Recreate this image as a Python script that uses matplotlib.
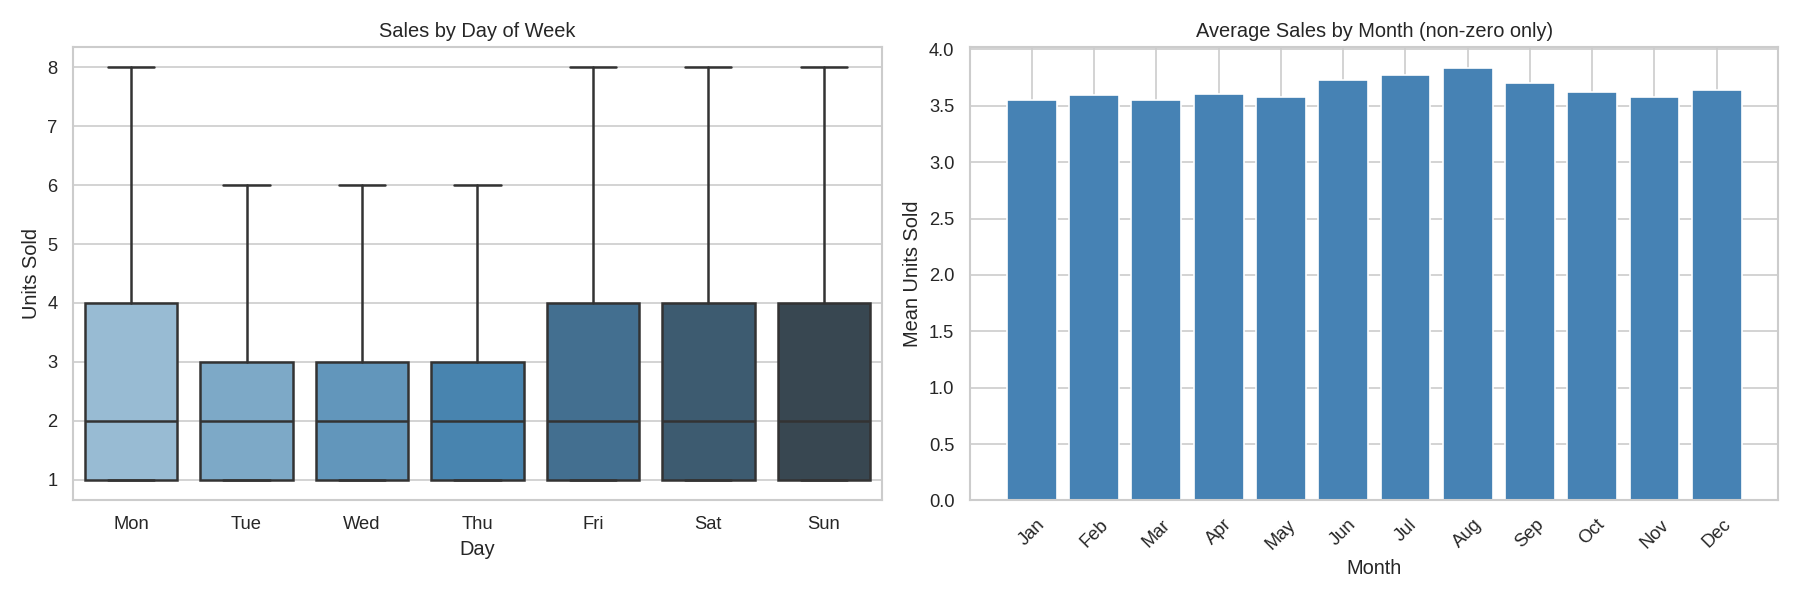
import numpy as np
import matplotlib
matplotlib.use("Agg")
import matplotlib.pyplot as plt
import seaborn as sns

# Box stats per weekday
days = ["Mon", "Tue", "Wed", "Thu", "Fri", "Sat", "Sun"]
q1 = [1, 1, 1, 1, 1, 1, 1]
med = [2, 2, 2, 2, 2, 2, 2]
q3 = [4, 3, 3, 3, 4, 4, 4]
whislo = [1, 1, 1, 1, 1, 1, 1]
whishi = [8, 6, 6, 6, 8, 8, 8]

# Mean units sold per month (non-zero only)
months = ["Jan", "Feb", "Mar", "Apr", "May", "Jun",
          "Jul", "Aug", "Sep", "Oct", "Nov", "Dec"]
mean_units = [3.548, 3.594, 3.555, 3.603, 3.576, 3.724,
              3.771, 3.833, 3.700, 3.621, 3.576, 3.638]

sns.set_theme(style="whitegrid")
plt.rcParams["font.family"] = ["Liberation Sans", "DejaVu Sans"]

fig, (ax1, ax2) = plt.subplots(1, 2, figsize=(15, 5), dpi=120)

# left: boxplot from stats
stats = [
    dict(med=m, q1=a, q3=b, whislo=lo, whishi=hi, fliers=[], label=d)
    for d, a, m, b, lo, hi in zip(days, q1, med, q3, whislo, whishi)
]
colors = [sns.desaturate(c, 0.75) for c in sns.color_palette("Blues_d", len(days))]
edge = "#333333"
bp = ax1.bxp(stats, positions=range(len(days)), widths=0.8, patch_artist=True,
             showfliers=False,
             boxprops=dict(edgecolor=edge, linewidth=1.5),
             medianprops=dict(color=edge, linewidth=1.5),
             whiskerprops=dict(color=edge, linewidth=1.5),
             capprops=dict(color=edge, linewidth=1.5))
for patch, c in zip(bp["boxes"], colors):
    patch.set_facecolor(c)
ax1.set_xlim(-0.5, len(days) - 0.5)
ax1.grid(axis="x", visible=False)
ax1.set_title("Sales by Day of Week")
ax1.set_xlabel("Day")
ax1.set_ylabel("Units Sold")

# right: monthly means
ax2.bar(months, mean_units, color="steelblue")
ax2.set_title("Average Sales by Month (non-zero only)")
ax2.set_xlabel("Month")
ax2.set_ylabel("Mean Units Sold")
ax2.tick_params(axis="x", rotation=45)

plt.tight_layout()
plt.savefig("out.png")
